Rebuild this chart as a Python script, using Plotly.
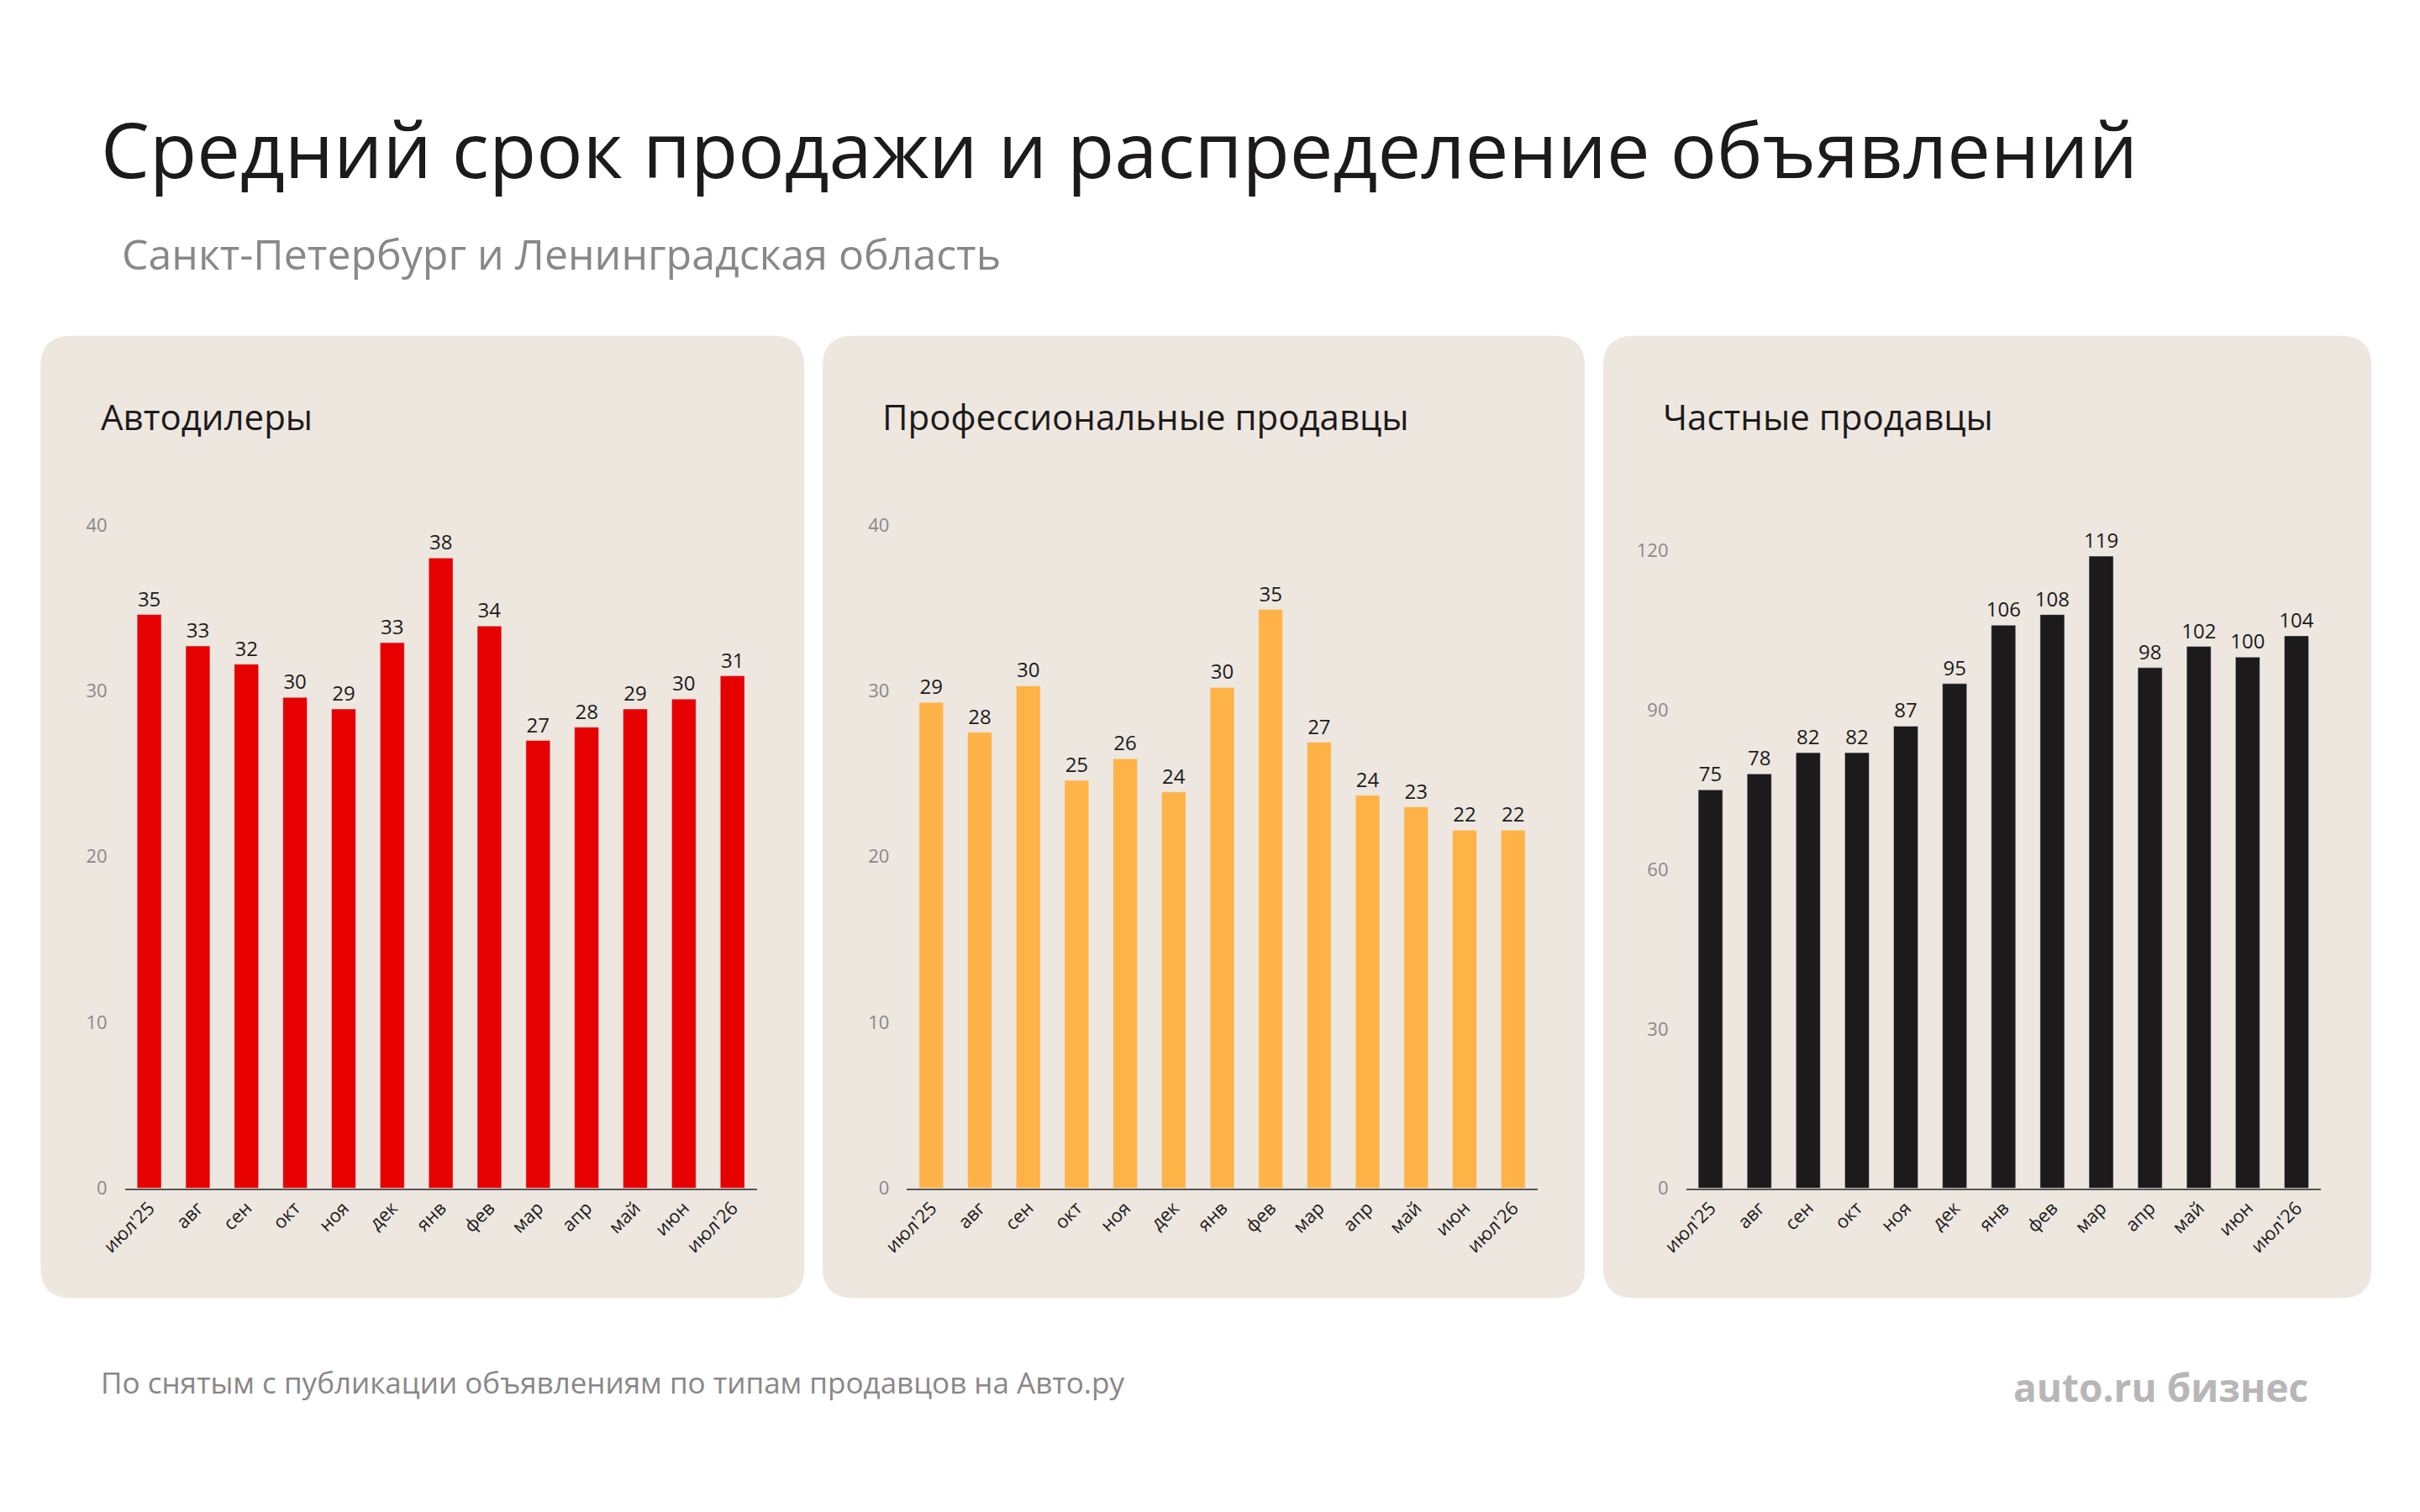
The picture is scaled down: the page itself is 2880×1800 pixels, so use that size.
import plotly.graph_objects as go

months = ["июл'25", "авг", "сен", "окт", "ноя", "дек", "янв", "фев", "мар", "апр", "май", "июн", "июл'26"]
dealers = [34.6, 32.7, 31.6, 29.6, 28.9, 32.9, 38.0, 33.9, 27.0, 27.8, 28.9, 29.5, 30.9]
pros = [29.3, 27.5, 30.3, 24.6, 25.9, 23.9, 30.2, 34.9, 26.9, 23.7, 23.0, 21.6, 21.6]
private = [75, 78, 82, 82, 87, 95, 106, 108, 119, 98, 102, 100, 104]
titles = ["Автодилеры", "Профессиональные продавцы", "Частные продавцы"]
colors = ["#e60000", "#ffb347", "#1c1a1b"]

W, H = 2880, 1800
FONT = "Open Sans"
DX, DY = -21, -11  # page offset correction

def px(x):
    return (x + DX) / 1560
def py(y):
    return 1 - (y + DY) / 975

def rounded(x0, y0, x1, y1, r=20):
    rx, ry = r / 1560, r / 975
    X0, X1, Y0, Y1 = px(x0), px(x1), py(y1), py(y0)
    return (f"M{X0+rx},{Y0} L{X1-rx},{Y0} Q{X1},{Y0} {X1},{Y0+ry} L{X1},{Y1-ry} "
            f"Q{X1},{Y1} {X1-rx},{Y1} L{X0+rx},{Y1} Q{X0},{Y1} {X0},{Y1-ry} "
            f"L{X0},{Y0+ry} Q{X0},{Y0} {X0+rx},{Y0} Z")

fig = go.Figure()
panels = [(25, 523), (535, 1032), (1044, 1545)]
plots = [(80, 492), (590, 1001), (1098, 1512)]
series = [dealers, pros, private]
ranges = [[0, 40], [0, 40], [0, 120 * 435 / 418]]
dticks = [10, 10, 30]

for i in range(3):
    ax = "" if i == 0 else str(i + 1)
    fig.add_trace(go.Bar(
        x=months, y=series[i], marker_color=colors[i], width=0.5,
        text=[str(round(v)) for v in series[i]], textposition="outside",
        constraintext="none",
        textfont=dict(size=24, color="#1c1a1b", family=FONT), cliponaxis=False,
        xaxis="x" + ax, yaxis="y" + ax, showlegend=False))
    x0, x1 = plots[i]
    fig.layout["xaxis" + ax] = dict(
        domain=[px(x0), px(x1)], anchor="y" + ax, tickangle=-45,
        tickfont=dict(size=22, color="#1c1a1b", family=FONT),
        showline=True, linecolor="#555", linewidth=2, showgrid=False, ticks="")
    fig.layout["yaxis" + ax] = dict(
        domain=[py(777), py(342)], anchor="x" + ax, range=ranges[i], dtick=dticks[i],
        tickfont=dict(size=22, color="#8a8788", family=FONT), showgrid=False,
        zeroline=False, ticks="", ticklabelstandoff=20)
    a, b = panels[i]
    fig.add_shape(type="path", xref="paper", yref="paper", path=rounded(a, 218, b, 849),
                  fillcolor="#ede7e0", line_width=0, layer="below")
    fig.add_annotation(text=titles[i], xref="paper", yref="paper", x=px(a + 38), y=py(271),
                       xanchor="left", yanchor="middle", showarrow=False,
                       font=dict(size=42, color="#1c1a1b", family=FONT))

fig.add_annotation(text="Средний срок продажи и распределение объявлений", xref="paper", yref="paper",
                   x=px(63), y=py(95), xanchor="left", yanchor="middle", showarrow=False,
                   font=dict(size=92, color="#1c1a1b", family=FONT))
fig.add_annotation(text="Санкт-Петербург и Ленинградская область", xref="paper", yref="paper",
                   x=px(77), y=py(164), xanchor="left", yanchor="middle", showarrow=False,
                   font=dict(size=50, color="#8a8788", family=FONT))
fig.add_annotation(text="По снятым с публикации объявлениям по типам продавцов на Авто.ру", xref="paper",
                   yref="paper", x=px(63), y=py(904), xanchor="left", yanchor="middle", showarrow=False,
                   font=dict(size=35, color="#8a8788", family=FONT))
fig.add_annotation(text="<b>auto.ru бизнес</b>", xref="paper", yref="paper", x=px(1505), y=py(907),
                   xanchor="right", yanchor="middle", showarrow=False,
                   font=dict(size=46, color="#b9b6b7", family=FONT))

fig.update_layout(width=W, height=H, margin=dict(l=0, r=0, t=0, b=0),
                  paper_bgcolor="white", plot_bgcolor="rgba(0,0,0,0)", bargap=0.5)
fig.write_html("out.html")
